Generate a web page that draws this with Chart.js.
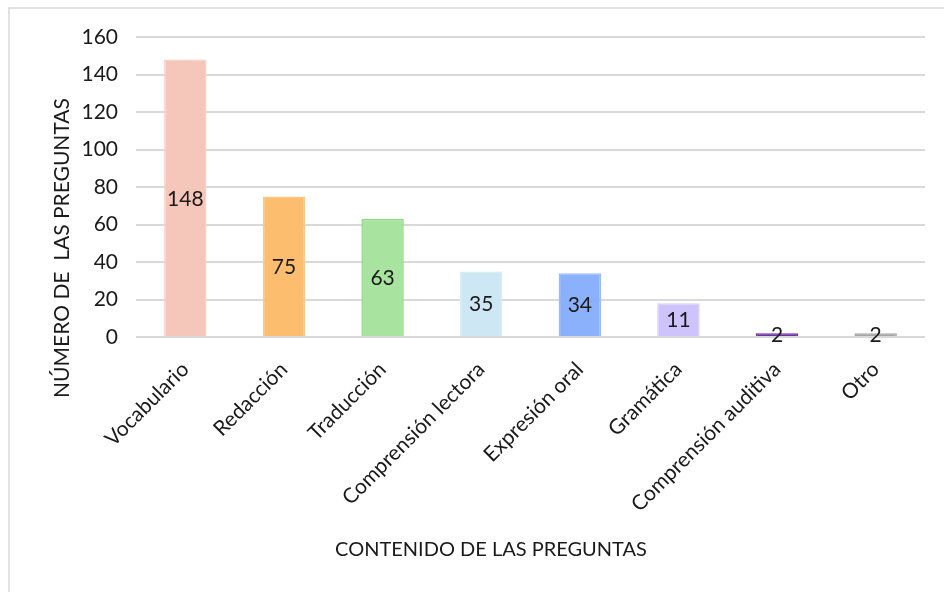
<!DOCTYPE html>
<html>
<head>
<meta charset="utf-8">
<script src="https://cdn.jsdelivr.net/npm/chart.js@4/dist/chart.umd.min.js"></script>
<style>
  body { margin: 0; background: #fff; }
  #lienzo { display: block; }
</style>
</head>
<body>
<canvas id="lienzo" width="944" height="592"></canvas>
<script>
// Datos
const categorias = ["Vocabulario", "Redacción", "Traducción", "Comprensión lectora",
  "Expresión oral", "Gramática", "Comprensión auditiva", "Otro"];
const valores = [148, 75, 63, 35, 34, 18, 2, 2];
const etiquetas = [148, 75, 63, 35, 34, 11, 2, 2];
const ticksY = [0, 20, 40, 60, 80, 100, 120, 140, 160];
const colores = ["#f5c6ba", "#fdbd6f", "#a8e4a0", "#cde8f4", "#8bb0fc", "#cfc3fc", "#7030a0", "#a6a6a6"];
const bordes = ["#f7d3c9", "#fcc98c", "#86dc7a", "#d6ecf6", "#9bbafc", "#d8cdfc", "#7030a0", "#a6a6a6"];

const fuente = "Lato, 'Open Sans', sans-serif";

// Etiquetas de valor centradas en cada barra
const etiquetasBarras = {
  id: "etiquetasBarras",
  afterDatasetsDraw(chart) {
    const ctx = chart.ctx;
    const meta = chart.getDatasetMeta(0);
    ctx.save();
    ctx.font = "21px " + fuente;
    ctx.fillStyle = "#1a1a1a";
    ctx.textAlign = "center";
    ctx.textBaseline = "middle";
    meta.data.forEach((bar, i) => {
      const y = (bar.y + bar.base) / 2;
      ctx.fillText(String(etiquetas[i]), bar.x, y + 1);
    });
    ctx.restore();
  }
};

// Títulos de ejes y marco exterior
const titulosYMarco = {
  id: "titulosYMarco",
  afterDraw(chart) {
    const ctx = chart.ctx;
    ctx.save();
    ctx.strokeStyle = "#d9d9d9";
    ctx.lineWidth = 1.5;
    ctx.beginPath();
    ctx.moveTo(9, 592);
    ctx.lineTo(9, 8);
    ctx.lineTo(944, 8);
    ctx.stroke();

    ctx.fillStyle = "#1a1a1a";
    ctx.font = "20px " + fuente;
    ctx.textAlign = "center";
    ctx.textBaseline = "middle";
    ctx.fillText("CONTENIDO DE LAS PREGUNTAS", 491, 550);

    ctx.font = "21px " + fuente;
    ctx.translate(62, 248);
    ctx.rotate(-Math.PI / 2);
    ctx.fillText("NÚMERO DE  LAS PREGUNTAS", 0, 0);
    ctx.restore();
  }
};

new Chart(document.getElementById("lienzo"), {
  type: "bar",
  data: {
    labels: categorias,
    datasets: [{
      data: valores,
      backgroundColor: colores,
      borderColor: bordes,
      borderWidth: 1.5,
      barPercentage: 0.43,
      categoryPercentage: 1
    }]
  },
  options: {
    responsive: false,
    animation: false,
    layout: { padding: { top: 37, right: 19, left: 0, bottom: 0 } },
    plugins: {
      legend: { display: false },
      tooltip: { enabled: false }
    },
    scales: {
      x: {
        grid: { display: false },
        border: { display: false },
        ticks: {
          color: "#1a1a1a",
          font: { family: fuente, size: 21 },
          minRotation: 45,
          maxRotation: 45,
          padding: 12,
          autoSkip: false
        },
        afterFit(scale) { scale.height = 255; }
      },
      y: {
        min: 0,
        max: 160,
        afterBuildTicks(scale) { scale.ticks = ticksY.map(v => ({ value: v })); },
        grid: { color: "#d9d9d9", lineWidth: 2, drawTicks: false },
        border: { display: false },
        ticks: {
          color: "#1a1a1a",
          font: { family: fuente, size: 21 },
          padding: 18
        },
        afterFit(scale) { scale.width = 136; }
      }
    }
  },
  plugins: [etiquetasBarras, titulosYMarco]
});
</script>
</body>
</html>
